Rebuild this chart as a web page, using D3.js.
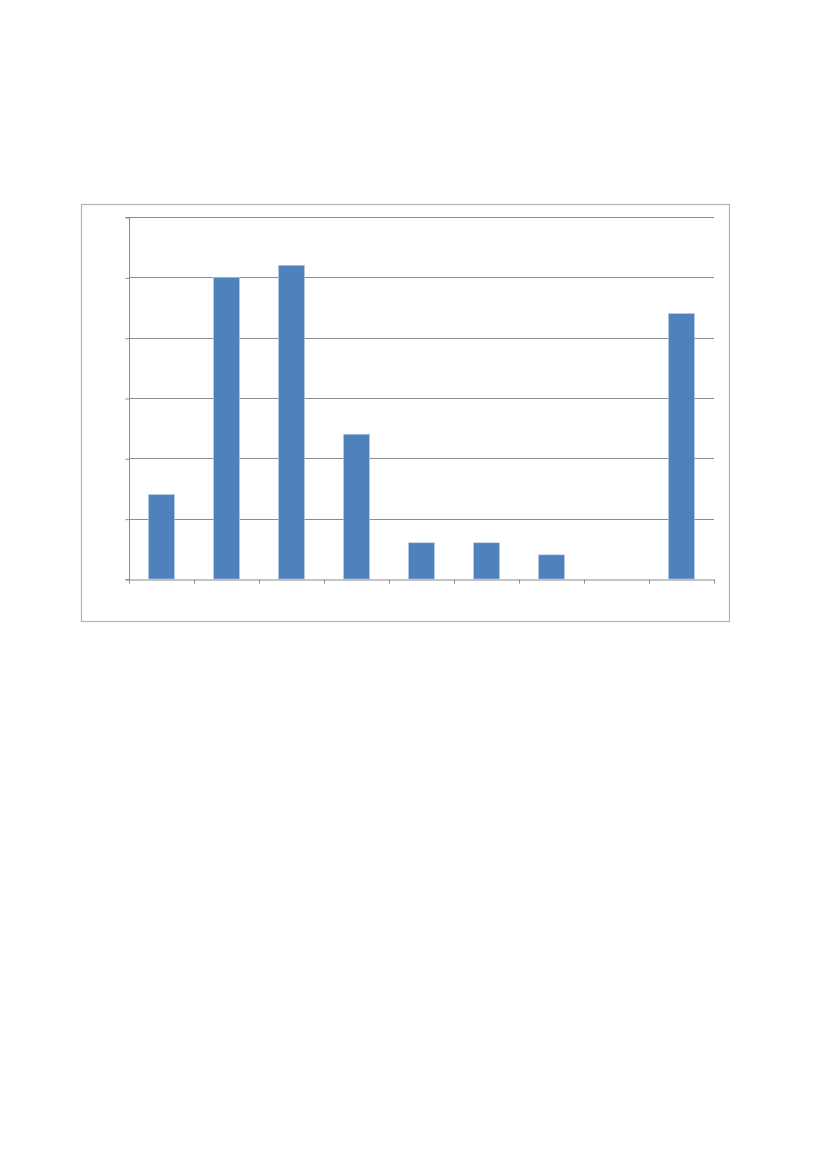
<!DOCTYPE html>
<html><head><meta charset="utf-8">
<script src="https://cdn.jsdelivr.net/npm/d3@7"></script>
<style>html,body{margin:0;padding:0;background:#fff;}svg{display:block;}</style>
</head><body>
<svg id="c" width="827" height="1169"></svg>
<script>
const categories = ["1","2","3","4","5","6","7","8","9"];
const values = [7, 25, 26, 12, 3, 3, 2, 0, 22];
const yTicks = [0, 5, 10, 15, 20, 25, 30];

const svg = d3.select("#c");
const frame = {x: 81, y: 204, w: 648, h: 417};
const plot = {left: 129, right: 714, top: 217, bottom: 579};

svg.append("rect").attr("x", frame.x + 0.5).attr("y", frame.y + 0.5)
  .attr("width", frame.w).attr("height", frame.h)
  .attr("fill", "#fff").attr("stroke", "#b3b3b3").attr("stroke-width", 1.2);

const x = d3.scaleBand().domain(categories).range([plot.left, plot.right]).padding(0);
const y = d3.scaleLinear().domain([0, 30]).range([plot.bottom, plot.top]);

// gridlines
svg.append("g").selectAll("line").data(yTicks.slice(1)).join("line")
  .attr("x1", plot.left).attr("x2", plot.right)
  .attr("y1", d => Math.round(y(d)) + 0.5).attr("y2", d => Math.round(y(d)) + 0.5)
  .attr("stroke", "#8c8c8c").attr("stroke-width", 1);

// bars
const bw = x.bandwidth() * 0.4;
svg.append("g").selectAll("rect").data(values).join("rect")
  .attr("x", (d, i) => x(categories[i]) + (x.bandwidth() - bw) / 2)
  .attr("y", d => y(d))
  .attr("width", bw)
  .attr("height", d => y(0) - y(d))
  .attr("fill", "#4f81bd")
  .attr("stroke", d => d > 0 ? "#b9cde5" : "none").attr("stroke-width", 0.6);

// y axis
const yAxis = d3.axisLeft(y).tickValues(yTicks).tickSize(4).tickFormat("");
const gy = svg.append("g").attr("transform", `translate(${plot.left + 0.5},0.5)`).call(yAxis);
gy.selectAll("path,line").attr("stroke", "#8c8c8c");
gy.select(".domain").attr("d", `M-4,${Math.round(y(30))}H0V${Math.round(y(0))}H-4`);

// x axis with ticks at category boundaries
const boundaries = categories.map(c => x(c)).concat([plot.right]);
const xb = d3.scaleLinear().domain([plot.left, plot.right]).range([plot.left, plot.right]);
const xAxis = d3.axisBottom(xb).tickValues(boundaries).tickSize(4).tickSizeOuter(0).tickFormat("");
const gx = svg.append("g").attr("transform", `translate(0,${Math.round(y(0)) + 0.5})`).call(xAxis);
gx.selectAll("path,line").attr("stroke", "#8c8c8c");
</script>
</body></html>
